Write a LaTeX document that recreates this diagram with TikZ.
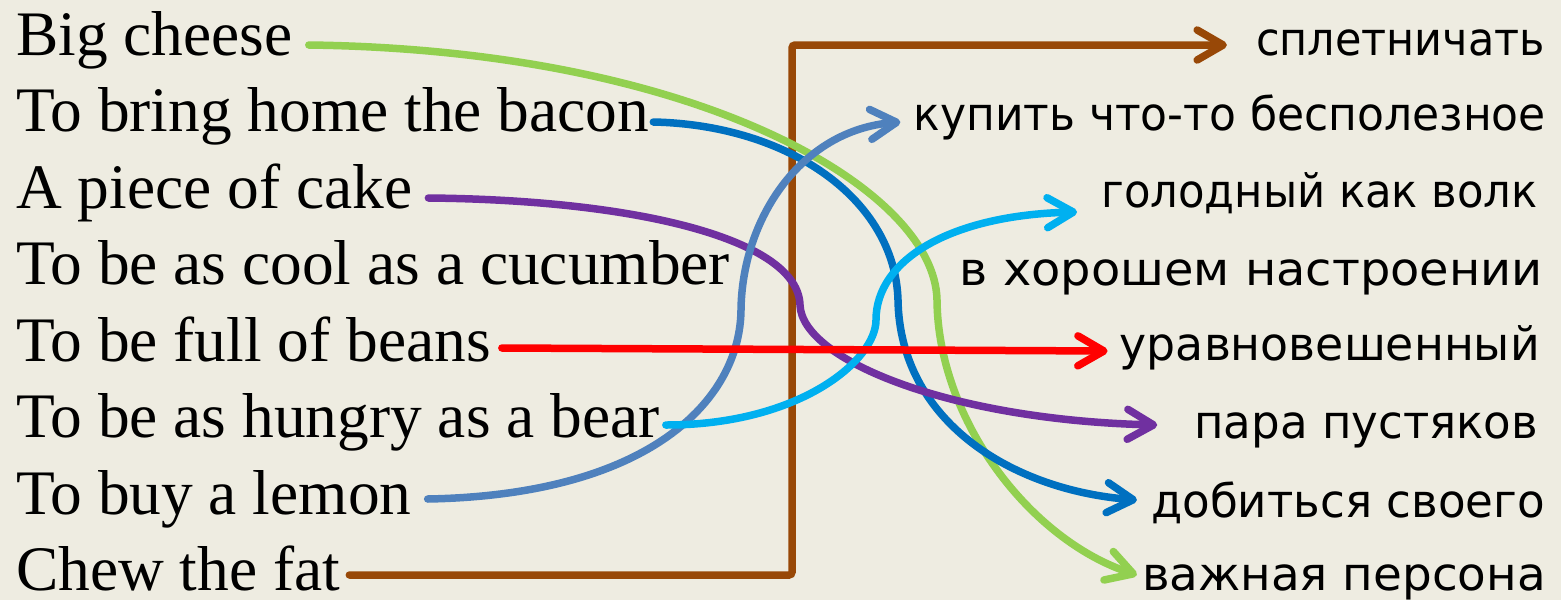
\documentclass[tikz,border=0pt]{standalone}
\usepackage{fontspec}
\setmainfont{Liberation Serif}
\newfontfamily\rufont{DejaVu Sans}
\usetikzlibrary{arrows.meta}
\definecolor{bgc}{HTML}{EEECE1}
\definecolor{cgreen}{HTML}{92D050}
\definecolor{cblue}{HTML}{0070C0}
\definecolor{cpurple}{HTML}{7030A0}
\definecolor{cred}{HTML}{FF0000}
\definecolor{ccyan}{HTML}{00B0F0}
\definecolor{csteel}{HTML}{4F81BD}
\definecolor{cbrown}{HTML}{984807}
\begin{document}
\begin{tikzpicture}[x=1pt,y=-1pt,
  lt/.style={anchor=base west,inner sep=0pt,font=\fontsize{63.4}{70}\selectfont},
  rt/.style={anchor=base east,inner sep=0pt,font=\rufont\fontsize{46}{52}\selectfont},
  link/.style={line width=7.5pt,line cap=round,-{Straight Barb[length=26pt,width=30pt,round]}}
]
\fill[bgc] (0,0) rectangle (1561,600);
\useasboundingbox (0,0) rectangle (1561,600);

\node[lt] (L1) at (16,55) {Big cheese};
\node[lt] (L2) at (16,131.5) {To bring home the bacon};
\node[lt] (L3) at (16,208) {A piece of cake};
\node[lt] (L4) at (16,284.5) {To be as cool as a cucumber};
\node[lt] (L5) at (16,361) {To be full of beans};
\node[lt] (L6) at (16,437.5) {To be as hungry as a bear};
\node[lt] (L7) at (16,514) {To buy a lemon};
\node[lt] (L8) at (16,590.5) {Chew the fat};

\node[rt] (R1) at (1545,55) {\scalebox{0.934}[1]{сплетничать}};
\node[rt] (R2) at (1546,130) {\scalebox{0.957}[1]{купить что-то бесполезное}};
\node[rt] (R3) at (1538,207) {\scalebox{0.942}[1]{голодный как волк}};
\node[rt] (R4) at (1543,285) {\scalebox{1.041}[1]{в хорошем настроении}};
\node[rt] (R5) at (1540,360) {\scalebox{0.995}[1]{уравновешенный}};
\node[rt] (R6) at (1538,438) {\scalebox{0.98}[1]{пара пустяков}};
\node[rt] (R7) at (1545,517) {\scalebox{0.982}[1]{добиться своего}};
\node[rt] (R8) at (1546,590) {\scalebox{1.018}[1]{важная персона}};

% Chew the fat -> сплетничать
\draw[link,cbrown,rounded corners=3pt] ([xshift=9pt,yshift=15.5pt]L8.base east) -- (792,575) -- (792,45) -- ([xshift=-29pt,yshift=10pt]R1.base west);
% Big cheese -> важная персона
\draw[link,cgreen] ([xshift=16pt,yshift=10pt]L1.base east) .. controls (700,50) and (935,190) .. (937,300) .. controls (938,420) and (1030,540) .. ([xshift=-5pt,yshift=15pt]R8.base west);
% To bring home the bacon -> добиться своего
\draw[link,cblue] ([xshift=4pt,yshift=9.5pt]L2.base east) .. controls (790,125) and (895,200) .. (898,300) .. controls (900,420) and (1010,490) .. ([xshift=-14pt,yshift=17pt]R7.base west);
% A piece of cake -> пара пустяков
\draw[link,cpurple] ([xshift=16pt,yshift=10pt]L3.base east) .. controls (640,200) and (798,240) .. (800,305) .. controls (802,360) and (950,420) .. ([xshift=-37pt,yshift=13pt]R6.base west);
% To buy a lemon -> купить что-то бесполезное
\draw[link,csteel] ([xshift=16pt,yshift=15pt]L7.base east) .. controls (650,495) and (740,400) .. (741,310) .. controls (742,220) and (800,130) .. ([xshift=-13pt,yshift=8pt]R2.base west);
% To be as hungry as a bear -> голодный как волк
\draw[link,ccyan] ([xshift=6pt,yshift=12.5pt]L6.base east) .. controls (800,425) and (876,360) .. (876,320) .. controls (876,260) and (950,215) .. ([xshift=-24pt,yshift=-5pt]R3.base west);
% To be full of beans -> уравновешенный
\draw[link,cred] ([xshift=11pt,yshift=13pt]L5.base east) -- ([xshift=-12pt,yshift=9pt]R5.base west);
\end{tikzpicture}
\end{document}
